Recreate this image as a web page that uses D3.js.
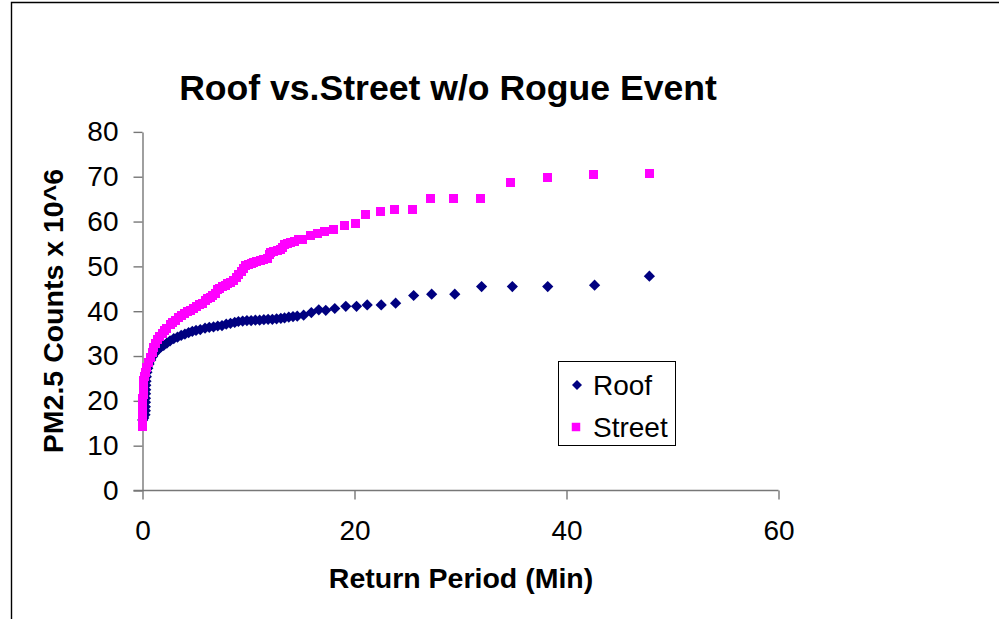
<!DOCTYPE html>
<html>
<head>
<meta charset="utf-8">
<script src="https://cdn.jsdelivr.net/npm/d3@7"></script>
<style>
  body { margin: 0; background: #fff; }
  #chart1 { width: 999px; height: 619px; }
  text { font-family: Arial, "Liberation Sans", sans-serif; fill: #000; }
  .axis path, .axis line { stroke: #777; stroke-width: 1.4; }
</style>
</head>
<body>
<div id="chart1"></div>
<script>

// Roof series (return period in min, PM2.5 counts x 10^6)
var roofPeriod = [0.02, 0.12, 0.24, 0.27, 0.27, 0.28, 0.28, 0.29, 0.30, 0.31, 0.33, 0.36, 0.42, 0.50, 0.62, 0.78,
    0.95, 1.15, 1.40, 1.70, 2.00, 2.30, 2.60, 2.95, 3.30, 3.65, 4.00, 4.35, 4.70, 5.05, 5.45, 5.90,
    6.30, 6.70, 7.10, 7.50, 7.90, 8.30, 8.70, 9.05, 9.45, 9.85, 10.25, 10.65, 11.05, 11.45, 11.85,
    12.25, 12.65, 13.05, 13.40, 13.80, 14.20, 14.60, 15.20, 15.93, 16.63, 17.29, 18.14, 19.18, 20.19,
    21.20, 22.52, 23.88, 25.58, 27.28, 29.46, 31.99, 34.89, 38.23, 42.65, 47.82];
var roofCounts = [15.7, 16.2, 16.9, 17.8, 18.7, 19.7, 20.6, 21.6, 22.5, 23.5, 24.4, 25.4, 26.4, 27.3, 28.2, 29.1,
    29.9, 30.6, 31.3, 31.9, 32.4, 32.9, 33.4, 33.9, 34.2, 34.6, 34.9, 35.2, 35.5, 35.7, 35.9, 36.2,
    36.4, 36.5, 36.7, 36.8, 37.1, 37.3, 37.5, 37.7, 37.8, 37.9, 37.9, 38.0, 38.0, 38.1, 38.2,
    38.2, 38.3, 38.4, 38.5, 38.7, 38.8, 38.9, 39.1, 39.7, 40.3, 40.2, 40.6, 41.1, 41.1,
    41.4, 41.4, 41.8, 43.5, 43.8, 43.8, 45.5, 45.5, 45.5, 45.8, 47.8];

// Street series
var streetPeriod = [0.01, 0.01, 0.02, 0.02, 0.03, 0.03, 0.04, 0.05, 0.06, 0.08, 0.10, 0.16, 0.26, 0.40, 0.55, 0.73,
    0.90, 1.06, 1.22, 1.38, 1.60, 1.85, 2.05, 2.30, 2.62, 2.85, 3.09, 3.41, 3.70, 3.95, 4.20, 4.50,
    4.83, 5.14, 5.40, 5.65, 5.93, 6.15, 6.40, 6.65, 6.87, 7.03, 7.30, 7.55, 7.82, 8.05, 8.30, 8.60,
    8.90, 9.10, 9.30, 9.55, 9.75, 10.00, 10.25, 10.50, 10.80, 11.10, 11.40, 11.75, 11.95, 12.10,
    12.40, 12.75, 13.00, 13.20, 13.40, 13.70, 14.00, 14.30, 14.70, 15.14, 15.87, 16.50, 17.16,
    18.00, 19.05, 20.09, 21.04, 22.46, 23.78, 25.49, 27.19, 29.37, 31.92, 34.76, 38.17, 42.52, 47.82];
var streetCounts = [14.3, 15.2, 16.4, 17.3, 18.5, 19.4, 20.6, 21.5, 22.7, 23.6, 24.6, 25.4, 26.4, 27.5, 28.6, 29.7,
    30.8, 31.9, 32.8, 33.6, 34.3, 35.0, 35.6, 36.2, 37.0, 37.5, 37.9, 38.6, 39.1, 39.4, 39.9, 40.2,
    40.5, 41.0, 41.4, 41.8, 42.4, 42.8, 43.1, 43.6, 44.0, 44.8, 45.1, 45.4, 45.7, 46.1, 46.5, 46.9,
    47.6, 48.2, 48.8, 49.6, 50.2, 50.5, 50.7, 50.9, 51.1, 51.3, 51.5, 51.8, 52.6, 53.1,
    53.3, 53.5, 53.7, 54.3, 54.9, 55.1, 55.3, 55.6, 55.9, 56.1, 56.8, 57.3, 57.7,
    58.3, 59.2, 59.6, 61.6, 62.2, 62.7, 62.7, 65.2, 65.2, 65.2, 68.8, 69.9, 70.4, 70.8];

var xTicks = [0, 20, 40, 60];
var yTicks = [0, 10, 20, 30, 40, 50, 60, 70, 80];
var seriesNames = ["Roof", "Street"];
var seriesColors = ["#000080", "#ff00ff"];

var width = 999;
var height = 619;

var svg = d3.select("#chart1")
    .append("svg")
    .attr("width", width)
    .attr("height", height);

// outer chart frame (cut off at right and bottom)
svg.append("path")
    .attr("d", "M11.5,619 L11.5,2.5 L999,2.5")
    .attr("fill", "none")
    .attr("stroke", "#000")
    .attr("stroke-width", 1.4);

var xScale = d3.scaleLinear().domain([0, 60]).range([142.5, 778.5]);
var yScale = d3.scaleLinear().domain([0, 80]).range([490.5, 131.9]);

var xAxis = svg.append("g")
    .attr("class", "axis")
    .attr("transform", "translate(0," + yScale(0) + ")")
    .call(d3.axisBottom(xScale).tickValues(xTicks).tickSize(9).tickSizeOuter(0).tickPadding(21));
xAxis.select(".domain").attr("d", "M" + (xScale(0) - 9) + ",0H" + xScale(60));
xAxis.selectAll("text")
    .attr("font-size", "28px")
    .attr("dy", "0.71em")
    .attr("font-family", "Arial, 'Liberation Sans', sans-serif");

var yAxis = svg.append("g")
    .attr("class", "axis")
    .attr("transform", "translate(" + xScale(0) + ",0)")
    .call(d3.axisLeft(yScale).tickValues(yTicks).tickSize(9).tickSizeOuter(0).tickPadding(15));
yAxis.selectAll("text")
    .attr("font-size", "28px")
    .attr("font-family", "Arial, 'Liberation Sans', sans-serif");

// title and axis titles
svg.append("text")
    .attr("x", 448)
    .attr("y", 100)
    .attr("text-anchor", "middle")
    .attr("font-size", "35.6px")
    .attr("font-weight", "bold")
    .text("Roof vs.Street w/o Rogue Event");

svg.append("text")
    .attr("x", 461)
    .attr("y", 588)
    .attr("text-anchor", "middle")
    .attr("font-size", "28.5px")
    .attr("font-weight", "bold")
    .text("Return Period (Min)");

svg.append("text")
    .attr("transform", "translate(63,311) rotate(-90)")
    .attr("text-anchor", "middle")
    .attr("font-size", "28.5px")
    .attr("font-weight", "bold")
    .text("PM2.5 Counts x 10^6");

var diamond = d3.symbol().type(d3.symbolSquare).size(63);
var square = d3.symbol().type(d3.symbolSquare).size(81);

var roofData = roofPeriod.map(function(d, i) { return { x: d, y: roofCounts[i] }; });
var streetData = streetPeriod.map(function(d, i) { return { x: d, y: streetCounts[i] }; });

svg.append("g").selectAll("path")
    .data(roofData)
    .enter().append("path")
        .attr("d", diamond)
        .attr("transform", function(d) {
            return "translate(" + xScale(d.x) + "," + yScale(d.y) + ") rotate(45)";
        })
        .attr("fill", seriesColors[0]);

svg.append("g").selectAll("path")
    .data(streetData)
    .enter().append("path")
        .attr("d", square)
        .attr("transform", function(d) {
            return "translate(" + xScale(d.x) + "," + yScale(d.y) + ")";
        })
        .attr("fill", seriesColors[1])
        .attr("shape-rendering", "crispEdges");

// legend
var legend = svg.append("g");
legend.append("rect")
    .attr("x", 558.5)
    .attr("y", 361.5)
    .attr("width", 117)
    .attr("height", 84)
    .attr("fill", "#fff")
    .attr("stroke", "#000")
    .attr("stroke-width", 1);

var legendItems = legend.selectAll("g.item")
    .data(seriesNames)
    .enter().append("g")
        .attr("class", "item")
        .attr("transform", function(d, i) { return "translate(577," + (385 + i * 42) + ")"; });

legendItems.append("path")
    .attr("d", function(d, i) { return i === 0 ? d3.symbol().type(d3.symbolSquare).size(50)() : d3.symbol().type(d3.symbolSquare).size(72)(); })
    .attr("transform", function(d, i) { return i === 0 ? "rotate(45)" : "translate(-1,0)"; })
    .attr("fill", function(d, i) { return seriesColors[i]; });

legendItems.append("text")
    .attr("x", 16)
    .attr("y", 9.5)
    .attr("font-size", "28px")
    .text(function(d) { return d; });

</script>
</body>
</html>
